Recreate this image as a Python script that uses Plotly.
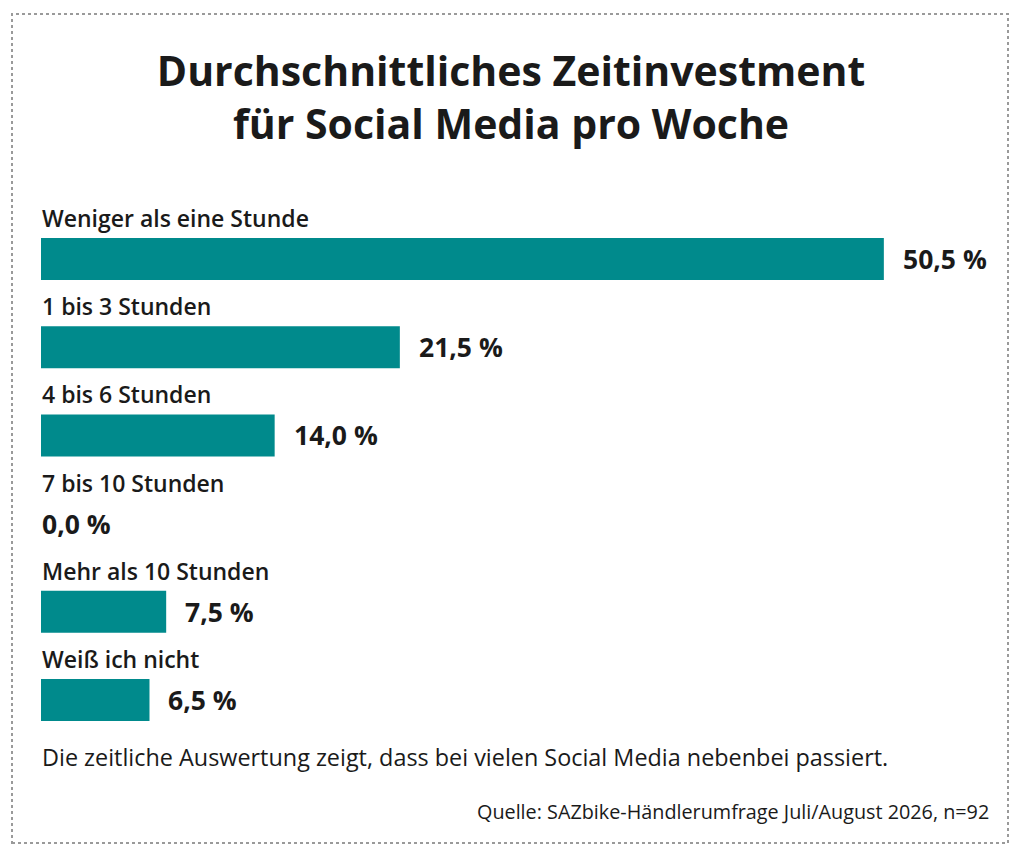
import plotly.graph_objects as go

categories = [
    "Weniger als eine Stunde",
    "1 bis 3 Stunden",
    "4 bis 6 Stunden",
    "7 bis 10 Stunden",
    "Mehr als 10 Stunden",
    "Weiß ich nicht",
]
values = [50.5, 21.5, 14.0, 0.0, 7.5, 6.5]
value_labels = ["50,5 %", "21,5 %", "14,0 %", "0,0 %", "7,5 %", "6,5 %"]

title_text = "Durchschnittliches Zeitinvestment<br>für Social Media pro Woche"
note_text = "Die zeitliche Auswertung zeigt, dass bei vielen Social Media nebenbei passiert."
source_text = "Quelle: SAZbike-Händlerumfrage Juli/August 2026, n=92"

TEAL = "#008a8c"
INK = "#1a1a1a"
FONT = "Open Sans"

# figure geometry (the page puts the figure 8px in from the corner)
W, H = 1024, 858
ML, MR, MT, MB = 33, 23, 207, 122
PW = W - ML - MR
PH = H - MT - MB


def px_x(p):
    return (p - ML) / PW


def px_y(p):
    return (H - MB - p) / PH


fig = go.Figure(
    go.Bar(
        x=values,
        y=categories,
        orientation="h",
        width=0.476,
        marker=dict(color=TEAL, line=dict(width=0)),
        hoverinfo="skip",
    )
)

annotations = []
for cat, val, lab in zip(categories, values, value_labels):
    # category name sits above its bar
    annotations.append(dict(
        x=0, y=cat, xref="x", yref="y", text=cat, showarrow=False,
        xanchor="left", yanchor="middle", yshift=41, xshift=-1,
        font=dict(family=FONT, size=23, color=INK, weight=600),
    ))
    # value to the right of the bar
    annotations.append(dict(
        x=val, y=cat, xref="x", yref="y", text=lab, showarrow=False,
        xanchor="left", yanchor="middle", xshift=17 if val > 0 else -1,
        font=dict(family=FONT, size=26.5, color=INK, weight=700),
    ))

annotations.append(dict(
    x=0, y=0, xref="paper", yref="paper", text=note_text, showarrow=False,
    xanchor="left", yanchor="middle", yshift=-13, xshift=-1,
    font=dict(family=FONT, size=23.4, color=INK),
))
annotations.append(dict(
    x=px_x(983), y=0, xref="paper", yref="paper", text=source_text,
    showarrow=False, xanchor="right", yanchor="middle", yshift=-67,
    font=dict(family=FONT, size=19.8, color=INK),
))

fig.update_layout(
    width=W,
    height=H,
    margin=dict(l=ML, r=MR, t=MT, b=MB),
    paper_bgcolor="white",
    plot_bgcolor="white",
    showlegend=False,
    title=dict(
        text=title_text, x=px_x(503), xref="paper", xanchor="center",
        y=1 - 78 / H, yanchor="middle",
        font=dict(family=FONT, size=41, color=INK, weight=700),
    ),
    xaxis=dict(range=[0, PW / 16.69], visible=False, fixedrange=True),
    yaxis=dict(
        categoryorder="array", categoryarray=categories,
        range=[5.5, -0.5], visible=False, fixedrange=True,
    ),
    annotations=annotations,
    shapes=[dict(
        type="rect", xref="paper", yref="paper",
        x0=px_x(4), x1=px_x(1000), y0=px_y(835), y1=px_y(6),
        line=dict(color="#9a9a9a", width=2, dash="dot"),
        layer="below",
    )],
)

fig.write_html("out.html")
